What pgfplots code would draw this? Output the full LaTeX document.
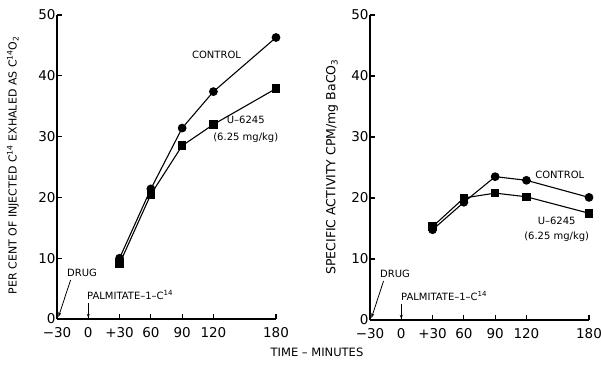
\documentclass[border=0pt]{standalone}
\usepackage{pgfplots}
\pgfplotsset{compat=1.18}
\usepackage{fontspec}
\setmainfont{DejaVu Sans}
\usetikzlibrary{arrows.meta}
\begin{document}
\begin{tikzpicture}
\path[use as bounding box] (0pt,0pt) rectangle (601pt,364pt);
\pgfplotsset{myax/.style={
  scale only axis, width=219pt, height=304pt, anchor=south west,
  xmin=-30, xmax=180, ymin=0, ymax=50,
  axis lines*=left,
  xtick={-30,0,30,60,90,120,180},
  xticklabels={−30,0,+30,60,90,120,180},
  ytick={0,10,20,30,40,50},
  yticklabels={0,10,20,30,40,50},
  tick align=inside, major tick length=5pt,
  axis line style={line width=1.8pt},
  tick style={line width=1.2pt, black},
  ticklabel style={font=\fontsize{13.5}{13.5}\selectfont},
  xticklabel style={yshift=-4.5pt},
  yticklabel style={xshift=2pt},
  clip=false,
  ctrl/.style={black, line width=1.1pt, mark=*, mark size=3.8pt},
  drug/.style={black, line width=1.1pt, mark=square*, mark size=3.7pt},
  every node/.style={font=\fontsize{11}{12}\selectfont},
}}
\begin{axis}[myax, at={(57pt,45pt)}]
\addplot[ctrl] coordinates {(30,10.0) (60,21.4) (90,31.4) (120,37.4) (180,46.3)};
\addplot[drug] coordinates {(30,9.1) (60,20.5) (90,28.5) (120,32.0) (180,37.9)};
\node at (axis cs:123,43.4) {CONTROL};
\node at (axis cs:151,32.7) {U–6245};
\node at (axis cs:151,29.8) {(6.25 mg/kg)};
\node at (axis cs:-6,7.6) {DRUG};
\draw[line width=0.8pt,-{Stealth[length=5pt,width=3pt]}] (axis cs:-17,6.4) -- (axis cs:-28.7,0.3);
\node[anchor=west] at (axis cs:-4.5,3.9) {PALMITATE–1–C$^{\mathrm{14}}$};
\draw[line width=0.8pt,-{Stealth[length=4pt,width=3pt]}] (axis cs:0,2.6) -- (axis cs:0,0.2);
\end{axis}
\begin{axis}[myax, at={(370pt,44pt)}, height=305pt]
\addplot[ctrl] coordinates {(30,14.8) (60,19.3) (90,23.5) (120,22.9) (180,20.1)};
\addplot[drug] coordinates {(30,15.3) (60,20.0) (90,20.8) (120,20.2) (180,17.5)};
\node at (axis cs:152,23.8) {CONTROL};
\node at (axis cs:149,16.2) {U–6245};
\node at (axis cs:149,13.6) {(6.25 mg/kg)};
\node at (axis cs:-6,7.6) {DRUG};
\draw[line width=0.8pt,-{Stealth[length=5pt,width=3pt]}] (axis cs:-17,6.4) -- (axis cs:-28.7,0.3);
\node[anchor=west] at (axis cs:-3.5,3.9) {PALMITATE–1–C$^{\mathrm{14}}$};
\draw[line width=0.8pt,-{Stealth[length=4pt,width=3pt]}] (axis cs:0,2.6) -- (axis cs:0,0.2);
\end{axis}
\node[rotate=90, font=\fontsize{11}{12}\selectfont] at (13pt,199pt) {PER CENT OF INJECTED C$^{\mathrm{14}}$ EXHALED AS C$^{\mathrm{14}}$O$_{\mathrm{2}}$};
\node[rotate=90, font=\fontsize{12.5}{13}\selectfont] at (332pt,197pt) {SPECIFIC ACTIVITY CPM/mg BaCO$_{\mathrm{3}}$};
\node[font=\fontsize{11.5}{12}\selectfont] at (317pt,12pt) {TIME – MINUTES};
\end{tikzpicture}
\end{document}
